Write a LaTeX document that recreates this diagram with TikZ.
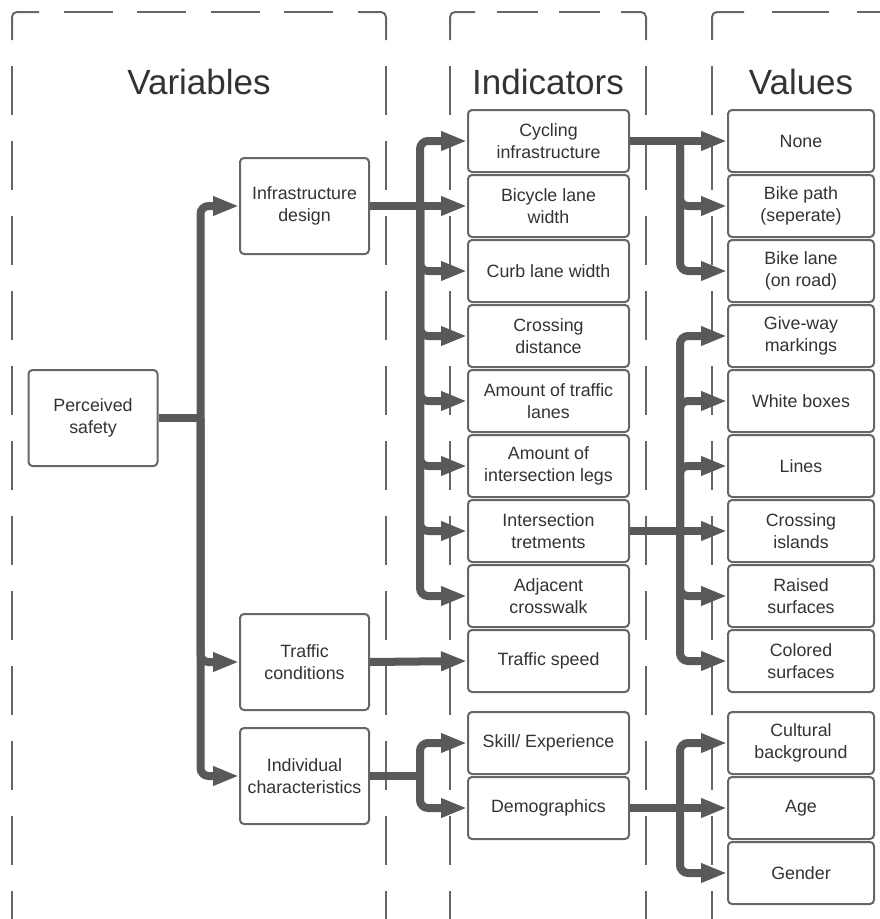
\documentclass[tikz,border=0pt]{standalone}
\usepackage{fontspec}
\setmainfont{Liberation Sans}
\usepackage{xcolor}
\usetikzlibrary{arrows.meta, positioning, calc}
\definecolor{wiregray}{RGB}{89,89,89}
\definecolor{boxgray}{RGB}{102,102,102}
\definecolor{textgray}{RGB}{51,51,51}
\tikzset{
    box/.style={
        rectangle,
        rounded corners=4pt,
        draw=boxgray,
        line width=2pt,
        fill=white,
        align=center,
        text=textgray,
        font=\fontsize{17.8}{22}\selectfont
    },
    varblock/.style={
        box,
        minimum width=129pt,
        minimum height=96pt
    },
    indblock/.style={
        box,
        minimum width=161pt,
        minimum height=62pt
    },
    valblock/.style={
        box,
        minimum width=146pt,
        minimum height=62pt
    },
    heading/.style={
        text=textgray,
        font=\fontsize{35}{42}\selectfont
    },
    wire/.style={
        draw=wiregray,
        line width=8pt
    },
    arrowline/.style={
        wire,
        rounded corners=8pt,
        -{Triangle[length=26pt,width=18pt]}
    },
    frame/.style={
        draw=boxgray,
        line width=2pt,
        rounded corners=5pt
    },
    vdash/.style={
        frame,
        dash pattern=on 49pt off 26pt,
        dash phase=49pt
    }
}

\begin{document}
\begin{tikzpicture}[x=1pt, y=-1pt, node distance=1pt]
\useasboundingbox (0,0) rectangle (880,919);
\clip (0,0) rectangle (880,919);
% Column frames
\draw[frame] (12,40) |- (39,12);
\draw[frame] (359,12) -| (386,40);
\draw[frame, dash pattern=on 49pt off 24.5pt, dash phase=49pt] (39,12) -- (359,12);
\draw[frame] (450,40) |- (475,12);
\draw[frame] (621,12) -| (646,40);
\draw[frame, dash pattern=on 41pt off 21.5pt, dash phase=41pt] (475,12) -- (621,12);
\draw[frame] (712,40) |- (744,12);
\draw[frame, dash pattern=on 57pt off 28pt, dash phase=57pt] (744,12) -- (900,12);
\foreach \x in {12,386,450,646,712}
    \draw[vdash] (\x,40) -- (\x,930);

\node[heading] (vartitle) at (199,82) {Variables};
\node[heading] (indtitle) at (548,82) {Indicators};
\node[heading] (valtitle) at (801,82) {Values};

% Variables
\node[varblock] (safety) at (93,418) {Perceived\\safety};
\node[varblock] (infra) at (304.5,206) {Infrastructure\\design};
\node[varblock] (traffic) at (304.5,662) {Traffic\\conditions};
\node[varblock] (indiv) at (304.5,776) {Individual\\characteristics};

% Indicators
\node[indblock] (cycinfra) at (548.5,141) {Cycling\\infrastructure};
\node[indblock, below=of cycinfra] (lanewidth) {Bicycle lane\\width};
\node[indblock, below=of lanewidth] (curb) {Curb lane width};
\node[indblock, below=of curb] (crossdist) {Crossing\\distance};
\node[indblock, below=of crossdist] (lanes) {Amount of traffic\\lanes};
\node[indblock, below=of lanes] (legs) {Amount of\\intersection legs};
\node[indblock, below=of legs] (treat) {Intersection\\tretments};
\node[indblock, below=of treat] (adjacent) {Adjacent\\crosswalk};
\node[indblock, below=of adjacent] (speed) {Traffic speed};
\node[indblock, below=18pt of speed] (skill) {Skill/ Experience};
\node[indblock, below=of skill] (demo) {Demographics};

% Values
\node[valblock] (none) at (801,141) {None};
\node[valblock, below=of none] (bikepath) {Bike path\\(seperate)};
\node[valblock, below=of bikepath] (bikelane) {Bike lane\\(on road)};
\node[valblock, below=of bikelane] (giveway) {Give-way\\markings};
\node[valblock, below=of giveway] (whiteboxes) {White boxes};
\node[valblock, below=of whiteboxes] (lines) {Lines};
\node[valblock, below=of lines] (islands) {Crossing\\islands};
\node[valblock, below=of islands] (raised) {Raised\\surfaces};
\node[valblock, below=of raised] (colored) {Colored\\surfaces};
\node[valblock, below=18pt of colored] (cultural) {Cultural\\background};
\node[valblock, below=of cultural] (age) {Age};
\node[valblock, below=of age] (gender) {Gender};

% Connectors
\coordinate (safetyjoint) at ($(safety.east)+(42,0)$);
\draw[wire] (safety.east) -- (safetyjoint);
\foreach \n in {infra, traffic, indiv}
    \draw[arrowline] (safetyjoint) |- (\n.west);

\coordinate (infrajoint) at ($(infra.east)+(50,0)$);
\draw[arrowline] (infra.east) -- (lanewidth.west);
\foreach \n in {cycinfra, curb, crossdist, lanes, legs, treat, adjacent}
    \draw[arrowline] (infrajoint) |- (\n.west);

\draw[arrowline] (traffic.east) -- (speed.west);

\coordinate (indivjoint) at ($(indiv.east)+(50,0)$);
\draw[wire] (indiv.east) -- (indivjoint);
\foreach \n in {skill, demo}
    \draw[arrowline] (indivjoint) |- (\n.west);

\coordinate (cycjoint) at ($(cycinfra.east)+(50,0)$);
\draw[arrowline] (cycinfra.east) -- (none.west);
\foreach \n in {bikepath, bikelane}
    \draw[arrowline] (cycjoint) |- (\n.west);

\coordinate (treatjoint) at ($(treat.east)+(50,0)$);
\draw[arrowline] (treat.east) -- (islands.west);
\foreach \n in {giveway, whiteboxes, lines, raised, colored}
    \draw[arrowline] (treatjoint) |- (\n.west);

\coordinate (demojoint) at ($(demo.east)+(50,0)$);
\draw[arrowline] (demo.east) -- (age.west);
\foreach \n in {cultural, gender}
    \draw[arrowline] (demojoint) |- (\n.west);
\end{tikzpicture}
\end{document}
